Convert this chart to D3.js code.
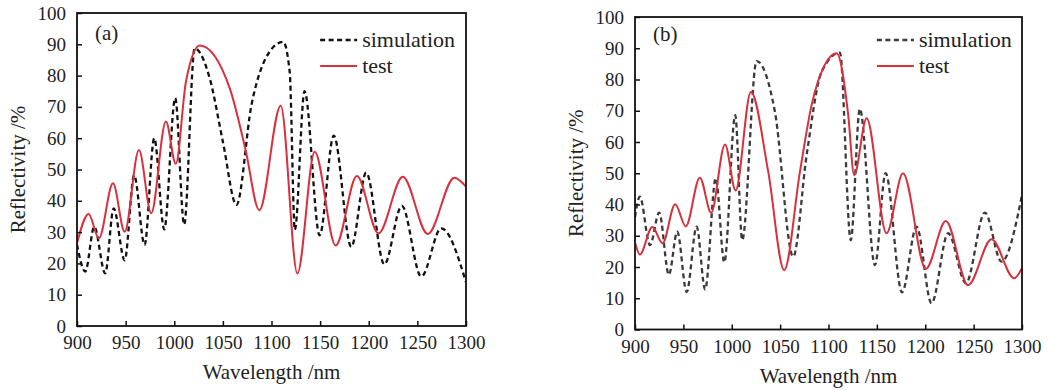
<!DOCTYPE html>
<html>
<head>
<meta charset="utf-8">
<script src="https://cdn.jsdelivr.net/npm/d3@7"></script>
<style>
  html, body { margin: 0; padding: 0; background: #fff; }
  svg { display: block; }
  svg text { font-family: "Liberation Serif", "Times New Roman", Tinos, "Noto Serif", "DejaVu Serif", FreeSerif, serif; fill: #222; }
</style>
</head>
<body>
<svg id="chart" width="1048" height="391"></svg>
<script>
// ---------- data ----------
const xTicks = [900, 950, 1000, 1050, 1100, 1150, 1200, 1250, 1300];
const yTicks = [0, 10, 20, 30, 40, 50, 60, 70, 80, 90, 100];
const seriesNames = ["simulation", "test"];
const panelLabels = ["(a)", "(b)"];
const xTitle = "Wavelength /nm";
const yTitle = "Reflectivity /%";

// Panel (a) simulation
const simA_wl = [900, 908.5, 917.8, 929, 937.7, 949, 958.8, 969.5, 979.4, 989.7, 1001, 1010.2, 1021, 1036.6, 1050, 1064, 1079.4, 1098, 1112, 1118.7, 1124, 1134, 1149.5, 1164, 1182, 1197.4, 1216, 1234, 1254, 1274.5, 1300];
const simA_R  = [26, 17.4, 31.7, 16.8, 37.6, 21, 48.2, 25.9, 60, 30.9, 72.8, 32.4, 88.7, 79, 58.9, 38.7, 70.6, 87.6, 90.8, 81.2, 30.7, 75, 29, 60.8, 25.3, 49, 19.7, 38.4, 15.8, 31.2, 14];
// Panel (a) test
const testA_wl = [900, 912, 922.5, 937, 949, 963.7, 976.3, 991.4, 1001.6, 1012, 1026.3, 1057, 1073, 1087.5, 1109.5, 1126.6, 1144.4, 1166, 1187.8, 1210, 1235, 1260.7, 1288, 1300];
const testA_R  = [26.4, 35.8, 28, 45.6, 30.1, 56.2, 36, 65.3, 51.8, 78, 89.6, 76, 56.8, 37, 70.4, 16.8, 55.7, 25.7, 47.9, 29.6, 47.7, 29.4, 47.4, 44.5];
// Panel (b) simulation
const simB_wl = [900, 905, 915.5, 925, 935, 943.7, 953.4, 963.7, 972.5, 983.5, 992.3, 1003.6, 1010.8, 1025.7, 1044.6, 1063.5, 1077.4, 1092.9, 1111.8, 1123, 1132.4, 1148, 1159, 1176, 1191, 1206.5, 1223.7, 1242, 1261.6, 1278.8, 1300];
const simB_R  = [36, 42.5, 27, 37.4, 17.5, 31.3, 12, 32.9, 12.8, 48.4, 21.5, 68.6, 28.6, 85.9, 69.7, 23.3, 55.8, 82.5, 88.6, 28.6, 70.6, 20.6, 50, 11.9, 32.9, 8.4, 30.8, 14.8, 37.4, 21.7, 43];
// Panel (b) test
const testB_wl = [900, 905, 917.9, 928.5, 941.5, 952.5, 967, 978.7, 993, 1004, 1019.8, 1037.7, 1054.2, 1070.5, 1082.5, 1096, 1108.4, 1120.4, 1126.5, 1139.4, 1160, 1177, 1200.6, 1221.3, 1244.3, 1268.5, 1291.8, 1300];
const testB_R  = [27.8, 24, 32.8, 27.6, 40.1, 33, 48.6, 37.4, 59.2, 44.5, 76, 50.5, 19, 50.5, 71.8, 84.6, 88.4, 68.6, 49.4, 67.6, 30.8, 50, 19.4, 34.7, 14.2, 28.9, 16.4, 19.6];

// ---------- layout ----------
const svg = d3.select("#chart");
const RED = "#d8303c";

const panels = [
  { label: panelLabels[0], x0: 77, x1: 466, yTop: 13, yBot: 326, simColor: "#111",
    sim: simA_wl.map((w, i) => [w, simA_R[i]]), test: testA_wl.map((w, i) => [w, testA_R[i]]),
    yTitleX: 18, labelY: 40 },
  { label: panelLabels[1], x0: 635, x1: 1022, yTop: 17, yBot: 329.5, simColor: "#3a3a3a",
    sim: simB_wl.map((w, i) => [w, simB_R[i]]), test: testB_wl.map((w, i) => [w, testB_R[i]]),
    yTitleX: 576, labelY: 41 }
];

panels.forEach(p => {
  const x = d3.scaleLinear().domain([900, 1300]).range([p.x0, p.x1]);
  const y = d3.scaleLinear().domain([0, 100]).range([p.yBot, p.yTop]);
  const g = svg.append("g");

  const clipId = "clip" + p.x0;
  svg.append("clipPath").attr("id", clipId).append("rect")
    .attr("x", p.x0).attr("y", p.yTop).attr("width", p.x1 - p.x0).attr("height", p.yBot - p.yTop);

  const line = d3.line().x(d => x(d[0])).y(d => y(d[1])).curve(d3.curveMonotoneX);

  g.append("path").datum(p.sim).attr("d", line)
    .attr("clip-path", `url(#${clipId})`)
    .attr("fill", "none").attr("stroke", p.simColor).attr("stroke-width", 2.3)
    .attr("stroke-dasharray", "5,3.5");
  g.append("path").datum(p.test).attr("d", line)
    .attr("clip-path", `url(#${clipId})`)
    .attr("fill", "none").attr("stroke", RED).attr("stroke-width", 2);

  // axes
  const xa = g.append("g").attr("transform", `translate(0,${p.yBot})`)
    .call(d3.axisBottom(x).tickValues(xTicks).tickFormat(d3.format("d")).tickSizeInner(-5).tickSizeOuter(0).tickPadding(10));
  const ya = g.append("g").attr("transform", `translate(${p.x0},0)`)
    .call(d3.axisLeft(y).tickValues(yTicks).tickFormat(d3.format("d")).tickSizeInner(-5).tickSizeOuter(0).tickPadding(11));
  [xa, ya].forEach(a => {
    a.attr("font-family", null).attr("font-size", null);
    a.select(".domain").remove();
    a.selectAll(".tick line").attr("stroke", "#111").attr("stroke-width", 1.5);
    a.selectAll(".tick text").attr("font-size", 19).attr("fill", "#222");
  });

  // frame
  g.append("rect").attr("x", p.x0).attr("y", p.yTop)
    .attr("width", p.x1 - p.x0).attr("height", p.yBot - p.yTop)
    .attr("fill", "none").attr("stroke", "#111").attr("stroke-width", 1.8);

  // titles
  g.append("text").attr("x", (p.x0 + p.x1) / 2).attr("y", p.yBot + 53)
    .attr("text-anchor", "middle").attr("font-size", 21).text(xTitle);
  g.append("text").attr("transform", `translate(${p.yTitleX},${(p.yTop + p.yBot) / 2}) rotate(-90)`)
    .attr("text-anchor", "middle").attr("dy", "0.35em").attr("font-size", 21).text(yTitle);

  // panel label
  g.append("text").attr("x", p.x0 + 18).attr("y", p.labelY).attr("font-size", 21).text(p.label);

  // legend
  const lx = x(1150), ly1 = 40, ly2 = 66;
  g.append("line").attr("x1", lx).attr("x2", lx + 37).attr("y1", ly1).attr("y2", ly1)
    .attr("stroke", p.simColor).attr("stroke-width", 2.3).attr("stroke-dasharray", "5,3.5");
  g.append("text").attr("x", lx + 42).attr("y", ly1).attr("dy", "0.3em").attr("font-size", 22).text(seriesNames[0]);
  g.append("line").attr("x1", lx).attr("x2", lx + 37).attr("y1", ly2).attr("y2", ly2)
    .attr("stroke", RED).attr("stroke-width", 2);
  g.append("text").attr("x", lx + 42).attr("y", ly2).attr("dy", "0.3em").attr("font-size", 22).text(seriesNames[1]);
});
</script>
</body>
</html>
